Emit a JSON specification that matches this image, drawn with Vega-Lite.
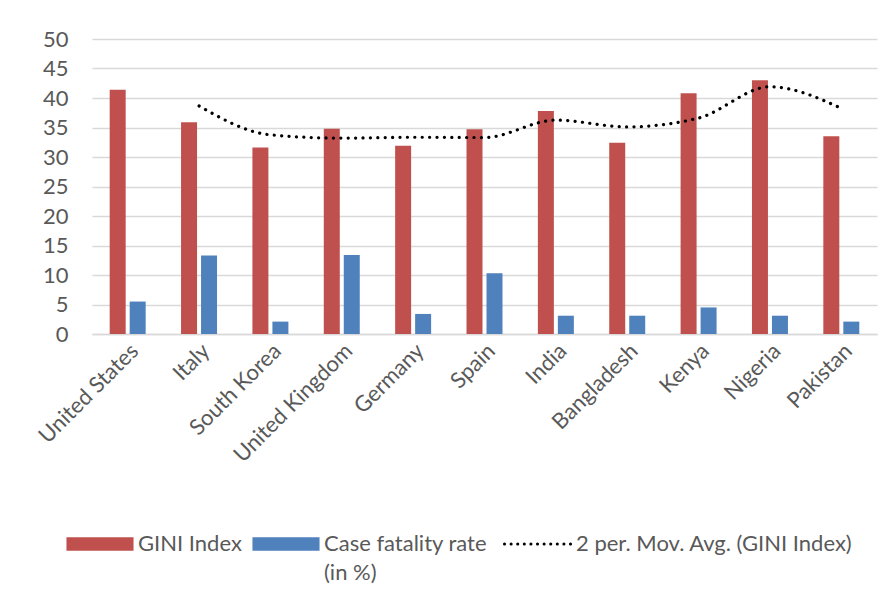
{
  "$schema": "https://vega.github.io/schema/vega-lite/v6.json",
  "width": 785,
  "height": 295,
  "autosize": "none",
  "padding": {"left": 92, "top": 39, "right": 16, "bottom": 272},
  "background": "white",
  "config": {"view": {"stroke": null}, "font": "Lato"},
  "datasets": {
    "bars": [
      {"country": "United States", "series": "GINI Index", "value": 41.4},
      {"country": "United States", "series": "Case fatality rate (in %)", "value": 5.5},
      {"country": "Italy", "series": "GINI Index", "value": 35.9},
      {"country": "Italy", "series": "Case fatality rate (in %)", "value": 13.3},
      {"country": "South Korea", "series": "GINI Index", "value": 31.6},
      {"country": "South Korea", "series": "Case fatality rate (in %)", "value": 2.1},
      {"country": "United Kingdom", "series": "GINI Index", "value": 34.8},
      {"country": "United Kingdom", "series": "Case fatality rate (in %)", "value": 13.4},
      {"country": "Germany", "series": "GINI Index", "value": 31.9},
      {"country": "Germany", "series": "Case fatality rate (in %)", "value": 3.4},
      {"country": "Spain", "series": "GINI Index", "value": 34.7},
      {"country": "Spain", "series": "Case fatality rate (in %)", "value": 10.3},
      {"country": "India", "series": "GINI Index", "value": 37.8},
      {"country": "India", "series": "Case fatality rate (in %)", "value": 3.1},
      {"country": "Bangladesh", "series": "GINI Index", "value": 32.4},
      {"country": "Bangladesh", "series": "Case fatality rate (in %)", "value": 3.1},
      {"country": "Kenya", "series": "GINI Index", "value": 40.8},
      {"country": "Kenya", "series": "Case fatality rate (in %)", "value": 4.5},
      {"country": "Nigeria", "series": "GINI Index", "value": 43.0},
      {"country": "Nigeria", "series": "Case fatality rate (in %)", "value": 3.1},
      {"country": "Pakistan", "series": "GINI Index", "value": 33.5},
      {"country": "Pakistan", "series": "Case fatality rate (in %)", "value": 2.1}
    ],
    "ma": [
      {"country": "Italy", "series": "2 per. Mov. Avg. (GINI Index)", "value": 38.65},
      {"country": "South Korea", "series": "2 per. Mov. Avg. (GINI Index)", "value": 33.75},
      {"country": "United Kingdom", "series": "2 per. Mov. Avg. (GINI Index)", "value": 33.2},
      {"country": "Germany", "series": "2 per. Mov. Avg. (GINI Index)", "value": 33.35},
      {"country": "Spain", "series": "2 per. Mov. Avg. (GINI Index)", "value": 33.3},
      {"country": "India", "series": "2 per. Mov. Avg. (GINI Index)", "value": 36.25},
      {"country": "Bangladesh", "series": "2 per. Mov. Avg. (GINI Index)", "value": 35.1},
      {"country": "Kenya", "series": "2 per. Mov. Avg. (GINI Index)", "value": 36.6},
      {"country": "Nigeria", "series": "2 per. Mov. Avg. (GINI Index)", "value": 41.9},
      {"country": "Pakistan", "series": "2 per. Mov. Avg. (GINI Index)", "value": 38.25}
    ]
  },
  "encoding": {
    "x": {
      "field": "country",
      "type": "nominal",
      "sort": null,
      "scale": {"paddingInner": 0, "paddingOuter": 0, "domain": ["United States", "Italy", "South Korea", "United Kingdom", "Germany", "Spain", "India", "Bangladesh", "Kenya", "Nigeria", "Pakistan"]},
      "axis": {
        "title": null,
        "labelAngle": -45,
        "labelFont": "Lato",
        "labelFontSize": 22,
        "labelColor": "#595959",
        "ticks": false,
        "labelPadding": 6,
        "domainColor": "#d9d9d9",
        "domainWidth": 1.5
      }
    },
    "y": {
      "field": "value",
      "type": "quantitative",
      "scale": {"domain": [0, 50], "nice": false},
      "axis": {
        "title": null,
        "values": [0, 5, 10, 15, 20, 25, 30, 35, 40, 45, 50],
        "domain": false,
        "ticks": false,
        "labelPadding": 24,
        "labelFont": "Lato",
        "labelFontSize": 22,
        "labelColor": "#595959",
        "gridColor": "#d9d9d9",
        "gridWidth": 1.5
      }
    },
    "color": {
      "field": "series",
      "type": "nominal",
      "scale": {
        "domain": ["GINI Index", "Case fatality rate (in %)", "2 per. Mov. Avg. (GINI Index)"],
        "range": ["#C0504D", "#4F81BD", "#000000"]
      },
      "legend": {
        "orient": "none",
        "legendX": -3,
        "legendY": 494,
        "direction": "horizontal",
        "title": null,
        "symbolType": "M-1,-0.2H1V0.2H-1Z",
        "symbolSize": 4500,
        "labelFont": "Lato",
        "labelFontSize": 22,
        "labelColor": "#595959",
        "labelOffset": 27,
        "columnPadding": 10,
        "labelBaseline": "alphabetic",
        "labelLimit": 400,
        "labelExpr": "datum.label === 'Case fatality rate (in %)' ? ['Case fatality rate', '(in %)'] : [datum.label, '']",
        "encode": {
          "labels": {"update": {"dy": {"value": 7}, "lineHeight": {"value": 29}}},
          "symbols": {
            "update": {
              "shape": {"signal": "datum.value === '2 per. Mov. Avg. (GINI Index)' ? 'stroke' : 'M-1,-0.2H1V0.2H-1Z'"},
              "fill": {"signal": "datum.value === '2 per. Mov. Avg. (GINI Index)' ? 'transparent' : scale('color', datum.value)"},
              "stroke": {"signal": "datum.value === '2 per. Mov. Avg. (GINI Index)' ? '#000000' : 'transparent'"},
              "strokeWidth": {"signal": "datum.value === '2 per. Mov. Avg. (GINI Index)' ? 3 : 0"},
              "strokeDash": {"signal": "datum.value === '2 per. Mov. Avg. (GINI Index)' ? [0.1, 6.5] : [1, 0]"},
              "strokeCap": {"value": "round"},
              "opacity": {"value": 1}
            }
          }
        }
      }
    }
  },
  "layer": [
    {
      "data": {"name": "bars"},
      "mark": {"type": "bar"},
      "encoding": {
        "xOffset": {
          "field": "series",
          "type": "nominal",
          "sort": ["GINI Index", "Case fatality rate (in %)"],
          "scale": {"paddingInner": 0.2, "paddingOuter": 0.885}
        }
      }
    },
    {
      "data": {"name": "ma"},
      "mark": {"type": "line", "interpolate": "monotone", "strokeWidth": 3.2, "strokeDash": [0.1, 7.3], "strokeCap": "round"},
      "encoding": {}
    }
  ]
}
